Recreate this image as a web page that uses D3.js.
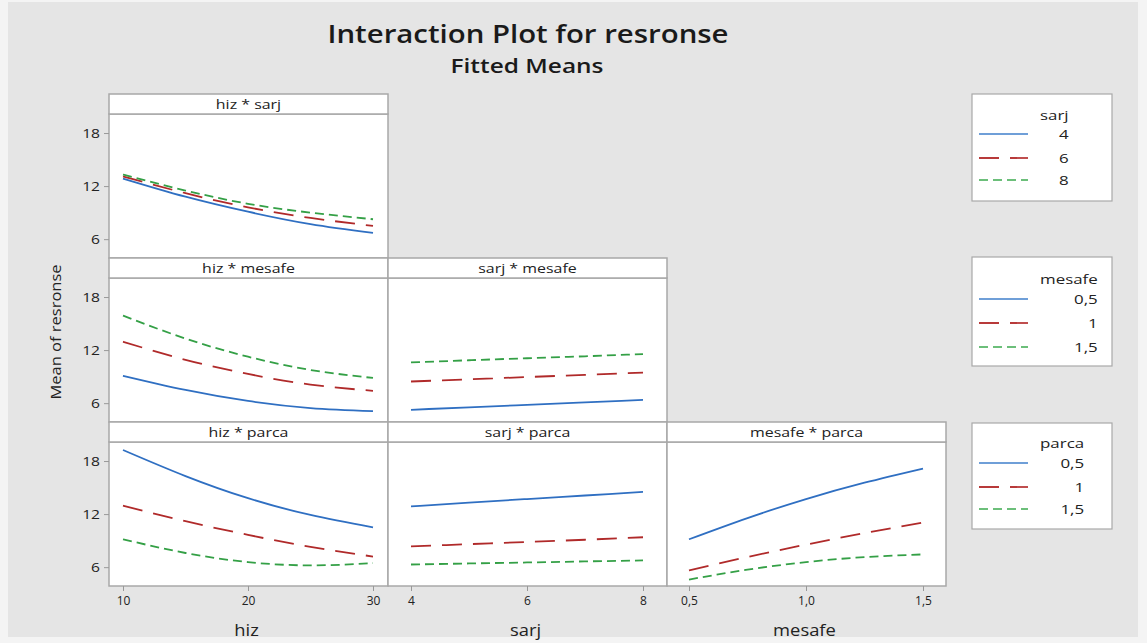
<!DOCTYPE html>
<html>
<head>
<meta charset="utf-8">
<script src="https://cdn.jsdelivr.net/npm/d3@7"></script>
<style>
  html, body { margin: 0; padding: 0; background: #f4f4f4; }
  svg { display: block; font-family: "Open Sans", "Noto Sans", sans-serif; }
</style>
</head>
<body>
<svg id="chart" width="1147" height="643"></svg>
<script>
// ---------------- DATA ----------------
const hizLevels = [10, 15, 20, 25, 30];
const sarjLevels = [4, 5, 6, 7, 8];
const mesafeLevels = [0.5, 0.75, 1.0, 1.25, 1.5];

const hizTicks = [10, 20, 30];
const sarjTicks = [4, 6, 8];
const mesafeTicks = [0.5, 1.0, 1.5];
const yTicks = [6, 12, 18];

const sarjLegend = ["4", "6", "8"];
const mesafeLegend = ["0,5", "1", "1,5"];
const parcaLegend = ["0,5", "1", "1,5"];

// hiz * sarj (series: sarj = 4, 6, 8)
const hizSarj4 = [12.85, 10.8, 9.1, 7.7, 6.7];
const hizSarj6 = [13.1, 11.2, 9.6, 8.4, 7.5];
const hizSarj8 = [13.3, 11.5, 10.0, 9.0, 8.25];

// hiz * mesafe (series: mesafe = 0.5, 1, 1.5)
const hizMesafe05 = [9.1, 7.5, 6.25, 5.45, 5.1];
const hizMesafe1 = [12.95, 10.9, 9.3, 8.1, 7.4];
const hizMesafe15 = [15.9, 13.3, 11.25, 9.75, 8.85];

// hiz * parca (series: parca = 0.5, 1, 1.5)
const hizParca05 = [19.25, 16.3, 13.8, 11.9, 10.5];
const hizParca1 = [12.95, 11.2, 9.65, 8.3, 7.2];
const hizParca15 = [9.15, 7.6, 6.57, 6.2, 6.45];

// sarj * mesafe
const sarjMesafe05 = [5.25, 5.53, 5.8, 6.08, 6.37];
const sarjMesafe1 = [8.45, 8.7, 8.95, 9.2, 9.45];
const sarjMesafe15 = [10.6, 10.85, 11.08, 11.3, 11.55];

// sarj * parca
const sarjParca05 = [12.87, 13.3, 13.7, 14.1, 14.5];
const sarjParca1 = [8.35, 8.6, 8.85, 9.1, 9.38];
const sarjParca15 = [6.3, 6.42, 6.53, 6.65, 6.76];

// mesafe * parca
const mesafeParca05 = [9.15, 11.55, 13.7, 15.55, 17.15];
const mesafeParca1 = [5.63, 7.15, 8.55, 9.85, 11.05];
const mesafeParca15 = [4.6, 5.72, 6.57, 7.14, 7.44];

// ---------------- LAYOUT ----------------
const svg = d3.select("#chart");
const colors = ["#2f6fc2", "#b02a2a", "#34a046"];
const legendColors = ["#6f9fd8", "#b83a3a", "#6cbf7a"];
const dashes = [null, "20,11", "9,5"];

// horizontal stretch of text (reference glyphs are wider than they are tall)
function stretch(sel, f) {
  sel.each(function () {
    const w = this.getComputedTextLength();
    this.setAttribute("textLength", w * f);
    this.setAttribute("lengthAdjust", "spacingAndGlyphs");
  });
  return sel;
}

svg.append("rect").attr("x", 8).attr("y", 2).attr("width", 1130).attr("height", 635).attr("fill", "#e5e5e5");

// title
svg.append("text").attr("x", 528).attr("y", 43).attr("text-anchor", "middle")
  .attr("font-size", 25).attr("font-weight", 600).attr("fill", "#1a1a1a")
  .attr("textLength", 401).attr("lengthAdjust", "spacingAndGlyphs")
  .text("Interaction Plot for resronse");
svg.append("text").attr("x", 527).attr("y", 73).attr("text-anchor", "middle")
  .attr("font-size", 20).attr("font-weight", 600).attr("fill", "#1a1a1a")
  .attr("textLength", 153).attr("lengthAdjust", "spacingAndGlyphs")
  .text("Fitted Means");

const colX = [109, 388, 667];
const colW = 279;
const rowY = [94, 258, 422];
const headH = 20;
const plotH = 144;

const xDomains = [
  { levels: hizLevels, ticks: hizTicks, pad: [14, 15], fmt: d => d3.format("d")(d), label: "hiz" },
  { levels: sarjLevels, ticks: sarjTicks, pad: [23, 24], fmt: d => d3.format("d")(d), label: "sarj" },
  { levels: mesafeLevels, ticks: mesafeTicks, pad: [22, 23], fmt: d => d3.format(".1f")(d).replace(".", ","), label: "mesafe" }
];

const panels = [
  { row: 0, col: 0, title: "hiz * sarj", series: [hizSarj4, hizSarj6, hizSarj8] },
  { row: 1, col: 0, title: "hiz * mesafe", series: [hizMesafe05, hizMesafe1, hizMesafe15] },
  { row: 1, col: 1, title: "sarj * mesafe", series: [sarjMesafe05, sarjMesafe1, sarjMesafe15] },
  { row: 2, col: 0, title: "hiz * parca", series: [hizParca05, hizParca1, hizParca15] },
  { row: 2, col: 1, title: "sarj * parca", series: [sarjParca05, sarjParca1, sarjParca15] },
  { row: 2, col: 2, title: "mesafe * parca", series: [mesafeParca05, mesafeParca1, mesafeParca15] }
];

const borderColor = "#a8a8a8";

function xScaleFor(col) {
  const d = xDomains[col];
  return d3.scaleLinear()
    .domain([d3.min(d.levels), d3.max(d.levels)])
    .range([colX[col] + d.pad[0], colX[col] + colW - d.pad[1]]);
}
function yScaleFor(row) {
  const top = rowY[row] + headH;
  return d3.scaleLinear().domain([3.87, 20.15]).range([top + plotH, top]);
}

panels.forEach(p => {
  const x0 = colX[p.col], y0 = rowY[p.row];
  const g = svg.append("g");
  g.append("rect").attr("x", x0).attr("y", y0 + headH).attr("width", colW).attr("height", plotH)
    .attr("fill", "#ffffff").attr("stroke", borderColor).attr("stroke-width", 1.5);
  g.append("rect").attr("x", x0).attr("y", y0).attr("width", colW).attr("height", headH)
    .attr("fill", "#ffffff").attr("stroke", borderColor).attr("stroke-width", 1.5);
  stretch(g.append("text").attr("x", x0 + colW / 2).attr("y", y0 + 15).attr("text-anchor", "middle")
    .attr("font-size", 13.5).attr("fill", "#222").text(p.title), 1.18);

  const xs = xScaleFor(p.col), ys = yScaleFor(p.row);
  const levels = xDomains[p.col].levels;
  const line = d3.line().x((d, i) => xs(levels[i])).y(d => ys(d)).curve(d3.curveNatural);
  p.series.forEach((s, k) => {
    g.append("path").attr("d", line(s)).attr("fill", "none")
      .attr("stroke", colors[k]).attr("stroke-width", 1.8)
      .attr("stroke-dasharray", dashes[k]);
  });
});

// y axes (left column)
[0, 1, 2].forEach(r => {
  const ys = yScaleFor(r);
  const ax = d3.axisLeft(ys).tickValues(yTicks).tickSize(5).tickPadding(4).tickFormat(d3.format("d"));
  const g = svg.append("g").attr("transform", `translate(${colX[0]},0)`).call(ax);
  g.select(".domain").remove();
  g.selectAll(".tick line").attr("stroke", "#999");
  const t = g.selectAll(".tick text").attr("font-size", 12.5).attr("fill", "#222").attr("font-family", "'Open Sans', sans-serif");
  stretch(t, 1.25);
});

// x axes (bottom row)
const bottomY = rowY[2] + headH + plotH;
[0, 1, 2].forEach(c => {
  const xs = xScaleFor(c);
  const ax = d3.axisBottom(xs).tickValues(xDomains[c].ticks).tickSize(5).tickPadding(5).tickFormat(xDomains[c].fmt);
  const g = svg.append("g").attr("transform", `translate(0,${bottomY})`).call(ax);
  g.select(".domain").remove();
  g.selectAll(".tick line").attr("stroke", "#999");
  g.selectAll(".tick text").attr("font-size", 12).attr("fill", "#222").attr("font-family", "'Open Sans', sans-serif");
  stretch(svg.append("text").attr("x", colX[c] + colW / 2 - 2).attr("y", 636).attr("text-anchor", "middle")
    .attr("font-size", 17).attr("font-weight", 400).attr("fill", "#222").text(xDomains[c].label), 1.08);
});

// y label
svg.append("text").attr("transform", "translate(61,332) rotate(-90)").attr("text-anchor", "middle")
  .attr("font-size", 14).attr("fill", "#222")
  .attr("textLength", 135).attr("lengthAdjust", "spacingAndGlyphs")
  .text("Mean of resronse");

// legends
const legends = [
  { title: "sarj", items: sarjLegend, y: 94, h: 107, titleY: 120, itemY: [134, 158, 180] },
  { title: "mesafe", items: mesafeLegend, y: 257, h: 109, titleY: 284, itemY: [299, 323, 347] },
  { title: "parca", items: parcaLegend, y: 423, h: 106, titleY: 448, itemY: [463, 487, 509] }
];
const legStretch = 1.3;
legends.forEach(L => {
  const g = svg.append("g");
  g.append("rect").attr("x", 972).attr("y", L.y).attr("width", 140).attr("height", L.h)
    .attr("fill", "#fff").attr("stroke", "#a8a8a8").attr("stroke-width", 1.2);
  const t = g.append("text").attr("x", 1040).attr("y", L.titleY).attr("font-size", 13).attr("fill", "#222").text(L.title);
  const tw = t.node().getComputedTextLength() * legStretch;
  stretch(t, legStretch);
  L.items.forEach((it, k) => {
    g.append("line").attr("x1", 979).attr("x2", 1028).attr("y1", L.itemY[k]).attr("y2", L.itemY[k])
      .attr("stroke", legendColors[k]).attr("stroke-width", 1.8).attr("stroke-dasharray", dashes[k]);
    stretch(g.append("text").attr("x", 1040 + tw).attr("y", L.itemY[k] + 5).attr("text-anchor", "end")
      .attr("font-size", 13).attr("fill", "#222").text(it), legStretch);
  });
});
</script>
</body>
</html>
